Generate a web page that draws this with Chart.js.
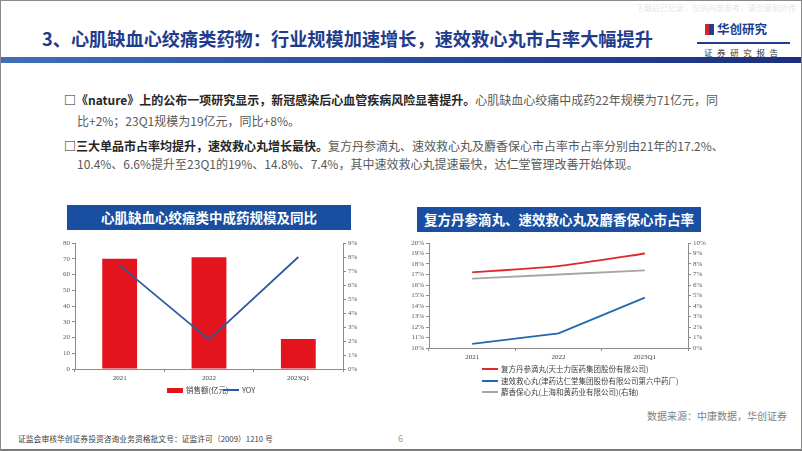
<!DOCTYPE html>
<html><head><meta charset="utf-8">
<script src="https://cdn.jsdelivr.net/npm/chart.js@4.4.0/dist/chart.umd.min.js"></script>
<style>
html,body{margin:0;padding:0;background:#fff}
body{width:802px;height:451px;overflow:hidden;position:relative;font-family:"Noto Sans CJK SC","Noto Sans",sans-serif}
.abs{position:absolute;white-space:nowrap}
#frame{position:absolute;left:0;top:0;width:802px;height:451px;box-sizing:border-box;border:1px solid #8a8a8a;border-bottom:2px solid #7a7a7a}
#band{position:absolute;left:1px;top:57px;width:800px;height:6px;background:linear-gradient(90deg,#3f6fb8 0%,#2a4f9c 45%,#1b2f7e 100%)}
#title{left:42px;top:25px;font-size:18.2px;font-weight:bold;color:#1f3d8c;letter-spacing:0px}
.p{font-size:12px;color:#595959}
.p b{color:#262626;font-weight:bold}
.box{position:absolute;background:#1a4ea1;color:#fff;font-weight:bold;font-size:13.5px;text-align:center;line-height:25px;height:25px;white-space:nowrap}
.leg{font-size:7.5px;color:#404040}
canvas{position:absolute}
</style></head>
<body>
<div id="frame"></div>
<div class="abs" style="left:636px;top:2px;font-size:8px;color:#e6e6e6">下载后已记录，仅供内部参考，请勿复制外传</div>
<div id="title" class="abs">3、心肌缺血心绞痛类药物：行业规模加速增长，速效救心丸市占率大幅提升</div>
<!-- logo -->
<div class="abs" style="left:705px;top:24px;width:9px;height:11px;background:#d7262b"></div>
<div class="abs" style="left:709px;top:24px;width:5px;height:11px;background:#1d3f8f"></div>
<div class="abs" style="left:717px;top:19px;font-size:12.5px;font-weight:bold;color:#1f3d8c">华创研究</div>
<div class="abs" style="left:697px;top:42px;width:93px;height:1.5px;background:#1f3d8c"></div>
<div class="abs" style="left:704px;top:46px;font-size:8.5px;color:#333;letter-spacing:4.6px">证券研究报告</div>
<div id="band"></div>

<div class="abs p" style="left:64px;top:91px"><b>□《nature》上的公布一项研究显示，新冠感染后心血管疾病风险显著提升。</b>心肌缺血心绞痛中成药22年规模为71亿元，同</div>
<div class="abs p" style="left:77px;top:112px">比+2%；23Q1规模为19亿元，同比+8%。</div>
<div class="abs p" style="left:64px;top:137px"><b>□三大单品市占率均提升，速效救心丸增长最快。</b>复方丹参滴丸、速效救心丸及麝香保心市占率市占率分别由21年的17.2%、</div>
<div class="abs p" style="left:77px;top:155px">10.4%、6.6%提升至23Q1的19%、14.8%、7.4%，其中速效救心丸提速最快，达仁堂管理改善开始体现。</div>

<div class="box" style="left:67px;top:205px;width:284px">心肌缺血心绞痛类中成药规模及同比</div>
<div class="box" style="left:417px;top:207px;width:284px">复方丹参滴丸、速效救心丸及麝香保心市占率</div>

<canvas id="c1" width="320" height="150" style="left:50px;top:235px;width:320px;height:150px"></canvas>
<canvas id="c2" width="325" height="125" style="left:395px;top:235px;width:325px;height:125px"></canvas>

<div class="abs" style="left:647px;top:408px;font-size:10px;color:#7f7f7f">数据来源：中康数据，华创证券</div>
<div class="abs" style="left:18px;top:433px;font-size:7.8px;color:#404040">证监会审核华创证券投资咨询业务资格批文号：证监许可（2009）1210 号</div>
<div class="abs" style="left:398px;top:432px;font-size:9px;color:#a0a0a0">6</div>

<script>
// ---- data ----
const categories = ['2021', '2022', '2023Q1'];
const salesLabel = '销售额(亿元)';
const salesValues = [70, 71, 19];
const yoyLabel = 'YOY';
const yoyValues = [7.4, 2.1, 8.0];

const shareLabels = [
  '复方丹参滴丸(天士力医药集团股份有限公司)',
  '速效救心丸(津药达仁堂集团股份有限公司第六中药厂)',
  '麝香保心丸(上海和黄药业有限公司)(右轴)'
];
const danshenShare = [17.2, 17.8, 19.0];
const suxiaoShare = [10.4, 11.4, 14.8];
const shexiangShare = [6.6, 7.0, 7.4];

// ---- styles ----
const RED = '#e4141e';
const BLUE = '#2e5b9f';
const RED2 = '#e0262f';
const BLUE2 = '#2168b0';
const GRAY2 = '#a6a6a6';
const AXIS = '#8c8c8c';
const tickFont = {family: 'Liberation Serif', size: 7};

function yAxis(pos, min, max, step, w, pct) {
  return {
    position: pos, min: min, max: max,
    ticks: {stepSize: step, autoSkip: false, font: tickFont, color: '#595959', padding: 2,
      callback: v => pct ? v + '%' : v},
    grid: {drawOnChartArea: false, drawTicks: true, tickLength: 3, color: AXIS},
    border: {color: AXIS, width: 1},
    afterFit: s => { s.width = w; }
  };
}
function xAxis(h) {
  return {
    offset: true,
    ticks: {font: tickFont, color: '#404040', padding: 2, maxRotation: 0, autoSkip: false},
    grid: {offset: true, drawOnChartArea: false, drawTicks: true, tickLength: 3, color: AXIS},
    border: {color: AXIS, width: 1},
    afterFit: s => { s.height = h; }
  };
}
const common = {
  responsive: false, animation: false, devicePixelRatio: 1,
  plugins: {legend: {display: false}, tooltip: {enabled: false}}
};

new Chart(document.getElementById('c1'), {
  type: 'bar',
  data: {
    labels: categories,
    datasets: [
      {type: 'line', label: yoyLabel, data: yoyValues, yAxisID: 'y1', borderColor: BLUE,
       borderWidth: 1.8, pointRadius: 0, tension: 0, order: 0},
      {type: 'bar', label: salesLabel, data: salesValues, yAxisID: 'y', backgroundColor: RED,
       barPercentage: 0.39, categoryPercentage: 1, order: 1}
    ]
  },
  options: Object.assign({}, common, {
    layout: {padding: {top: 8, left: 0, right: 0, bottom: 0}},
    scales: {
      x: xAxis(16),
      y: yAxis('left', 0, 80, 10, 25, false),
      y1: yAxis('right', 0, 9, 1, 27, true)
    }
  })
});

new Chart(document.getElementById('c2'), {
  type: 'line',
  data: {
    labels: categories,
    datasets: [
      {label: shareLabels[0], data: danshenShare, yAxisID: 'y', borderColor: RED2, borderWidth: 1.8, pointRadius: 0, tension: 0.15},
      {label: shareLabels[1], data: suxiaoShare, yAxisID: 'y', borderColor: BLUE2, borderWidth: 1.8, pointRadius: 0, tension: 0},
      {label: shareLabels[2], data: shexiangShare, yAxisID: 'y1', borderColor: GRAY2, borderWidth: 1.8, pointRadius: 0, tension: 0}
    ]
  },
  options: Object.assign({}, common, {
    layout: {padding: {top: 8, left: 0, right: 0, bottom: 0}},
    scales: {
      x: xAxis(12),
      y: yAxis('left', 10, 20, 1, 34, true),
      y1: yAxis('right', 0, 10, 1, 32, true)
    }
  })
});

// ---- legends (HTML) ----
function item(x, y, kind, color, text) {
  const m = document.createElement('div');
  m.className = 'abs';
  if (kind === 'rect') m.style.cssText = `left:${x}px;top:${y-2.5}px;width:16px;height:5px;background:${color}`;
  else m.style.cssText = `left:${x}px;top:${y-1}px;width:16px;height:2px;background:${color}`;
  document.body.appendChild(m);
  const t = document.createElement('div');
  t.className = 'abs leg';
  t.style.cssText = `left:${x + 19}px;top:${y - 6}px;`;
  t.textContent = text;
  document.body.appendChild(t);
}
item(167, 390, 'rect', RED, salesLabel);
item(223, 390, 'line', BLUE, yoyLabel);
item(482, 369, 'line', RED2, shareLabels[0]);
item(482, 381, 'line', BLUE2, shareLabels[1]);
item(482, 392, 'line', GRAY2, shareLabels[2]);
</script>
</body></html>
